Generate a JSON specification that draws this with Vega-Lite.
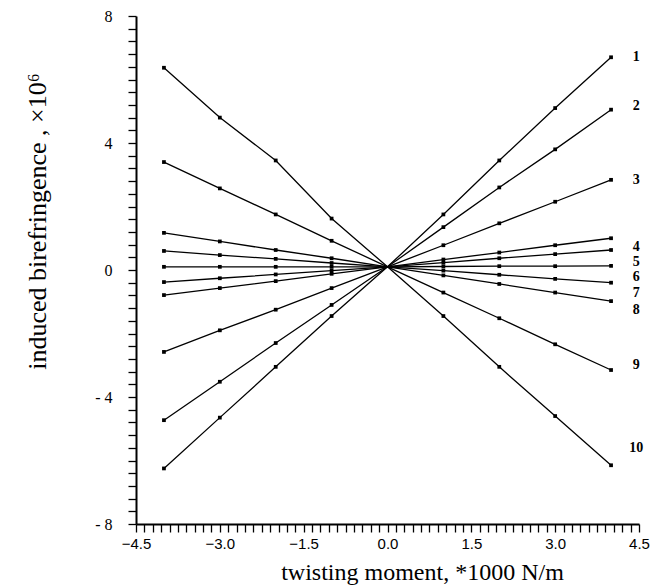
{
  "$schema": "https://vega.github.io/schema/vega-lite/v6.json",
  "width": 503,
  "height": 508,
  "autosize": {"type": "none"},
  "padding": {"left": 136, "top": 16, "right": 16, "bottom": 63},
  "background": "white",
  "config": {"view": {"stroke": null}},
  "datasets": {
    "pts": [
      {"s": 1, "x": -4, "y": -6.25}, {"s": 1, "x": -3, "y": -4.65}, {"s": 1, "x": -2, "y": -3.05}, {"s": 1, "x": -1, "y": -1.45}, {"s": 1, "x": 0, "y": 0.1}, {"s": 1, "x": 1, "y": 1.75}, {"s": 1, "x": 2, "y": 3.45}, {"s": 1, "x": 3, "y": 5.1}, {"s": 1, "x": 4, "y": 6.7},
      {"s": 2, "x": -4, "y": -4.73}, {"s": 2, "x": -3, "y": -3.52}, {"s": 2, "x": -2, "y": -2.3}, {"s": 2, "x": -1, "y": -1.1}, {"s": 2, "x": 0, "y": 0.1}, {"s": 2, "x": 1, "y": 1.35}, {"s": 2, "x": 2, "y": 2.6}, {"s": 2, "x": 3, "y": 3.8}, {"s": 2, "x": 4, "y": 5.05},
      {"s": 3, "x": -4, "y": -2.58}, {"s": 3, "x": -3, "y": -1.9}, {"s": 3, "x": -2, "y": -1.25}, {"s": 3, "x": -1, "y": -0.57}, {"s": 3, "x": 0, "y": 0.1}, {"s": 3, "x": 1, "y": 0.78}, {"s": 3, "x": 2, "y": 1.47}, {"s": 3, "x": 3, "y": 2.15}, {"s": 3, "x": 4, "y": 2.84},
      {"s": 4, "x": -4, "y": -0.79}, {"s": 4, "x": -3, "y": -0.57}, {"s": 4, "x": -2, "y": -0.35}, {"s": 4, "x": -1, "y": -0.12}, {"s": 4, "x": 0, "y": 0.1}, {"s": 4, "x": 1, "y": 0.33}, {"s": 4, "x": 2, "y": 0.55}, {"s": 4, "x": 3, "y": 0.78}, {"s": 4, "x": 4, "y": 1.0},
      {"s": 5, "x": -4, "y": -0.38}, {"s": 5, "x": -3, "y": -0.26}, {"s": 5, "x": -2, "y": -0.14}, {"s": 5, "x": -1, "y": -0.02}, {"s": 5, "x": 0, "y": 0.1}, {"s": 5, "x": 1, "y": 0.23}, {"s": 5, "x": 2, "y": 0.37}, {"s": 5, "x": 3, "y": 0.5}, {"s": 5, "x": 4, "y": 0.63},
      {"s": 6, "x": -4, "y": 0.1}, {"s": 6, "x": -3, "y": 0.1}, {"s": 6, "x": -2, "y": 0.1}, {"s": 6, "x": -1, "y": 0.1}, {"s": 6, "x": 0, "y": 0.1}, {"s": 6, "x": 1, "y": 0.11}, {"s": 6, "x": 2, "y": 0.12}, {"s": 6, "x": 3, "y": 0.12}, {"s": 6, "x": 4, "y": 0.13},
      {"s": 7, "x": -4, "y": 0.6}, {"s": 7, "x": -3, "y": 0.47}, {"s": 7, "x": -2, "y": 0.35}, {"s": 7, "x": -1, "y": 0.22}, {"s": 7, "x": 0, "y": 0.1}, {"s": 7, "x": 1, "y": -0.02}, {"s": 7, "x": 2, "y": -0.15}, {"s": 7, "x": 3, "y": -0.28}, {"s": 7, "x": 4, "y": -0.4},
      {"s": 8, "x": -4, "y": 1.17}, {"s": 8, "x": -3, "y": 0.9}, {"s": 8, "x": -2, "y": 0.63}, {"s": 8, "x": -1, "y": 0.37}, {"s": 8, "x": 0, "y": 0.1}, {"s": 8, "x": 1, "y": -0.17}, {"s": 8, "x": 2, "y": -0.44}, {"s": 8, "x": 3, "y": -0.71}, {"s": 8, "x": 4, "y": -0.98},
      {"s": 9, "x": -4, "y": 3.4}, {"s": 9, "x": -3, "y": 2.57}, {"s": 9, "x": -2, "y": 1.75}, {"s": 9, "x": -1, "y": 0.92}, {"s": 9, "x": 0, "y": 0.1}, {"s": 9, "x": 1, "y": -0.71}, {"s": 9, "x": 2, "y": -1.52}, {"s": 9, "x": 3, "y": -2.34}, {"s": 9, "x": 4, "y": -3.15},
      {"s": 10, "x": -4, "y": 6.37}, {"s": 10, "x": -3, "y": 4.8}, {"s": 10, "x": -2, "y": 3.45}, {"s": 10, "x": -1, "y": 1.62}, {"s": 10, "x": 0, "y": 0.1}, {"s": 10, "x": 1, "y": -1.45}, {"s": 10, "x": 2, "y": -3.05}, {"s": 10, "x": 3, "y": -4.6}, {"s": 10, "x": 4, "y": -6.15}
    ],
    "labels": [
      {"t": "1", "x": 4.45, "y": 6.7},
      {"t": "2", "x": 4.45, "y": 5.15},
      {"t": "3", "x": 4.45, "y": 2.84},
      {"t": "4", "x": 4.45, "y": 0.72},
      {"t": "5", "x": 4.45, "y": 0.25},
      {"t": "6", "x": 4.45, "y": -0.22},
      {"t": "7", "x": 4.45, "y": -0.73},
      {"t": "8", "x": 4.45, "y": -1.26},
      {"t": "9", "x": 4.45, "y": -2.99},
      {"t": "10", "x": 4.45, "y": -5.6}
    ]
  },
  "layer": [
    {
      "data": {"name": "pts"},
      "mark": {"type": "line", "color": "black", "strokeWidth": 1.3},
      "encoding": {
        "x": {
          "field": "x", "type": "quantitative",
          "scale": {"domain": [-4.5, 4.5], "nice": false, "zero": false},
          "axis": {
            "title": "twisting moment,   *1000 N/m",
            "titleFont": "Liberation Serif", "titleFontSize": 24, "titleFontWeight": "normal", "titleColor": "black",
            "titleX": 286, "titleY": 55, "titleAnchor": null, "titleAlign": "center", "titleBaseline": "alphabetic",
            "tickCount": 200,
            "values": [-4.5,-4.35,-4.2,-4.05,-3.9,-3.75,-3.6,-3.45,-3.3,-3.15,-3.0,-2.85,-2.7,-2.55,-2.4,-2.25,-2.1,-1.95,-1.8,-1.65,-1.5,-1.35,-1.2,-1.05,-0.9,-0.75,-0.6,-0.45,-0.3,-0.15,0,0.15,0.3,0.45,0.6,0.75,0.9,1.05,1.2,1.35,1.5,1.65,1.8,1.95,2.1,2.25,2.4,2.55,2.7,2.85,3.0,3.15,3.3,3.45,3.6,3.75,3.9,4.05,4.2,4.35,4.5],
            "labelExpr": "abs(datum.value/1.5 - round(datum.value/1.5)) < 0.01 ? replace(format(datum.value, '.1f'), '-', '\u2212') : ''",
            "labelFont": "Liberation Sans", "labelFontSize": 15, "labelColor": "black", "labelPadding": 4,
            "labelOverlap": false, "labelFlush": false,
            "tickSize": 8, "tickColor": "black", "tickWidth": 1.3,
            "domainColor": "black", "domainWidth": 2, "grid": false
          }
        },
        "y": {
          "field": "y", "type": "quantitative",
          "scale": {"domain": [-8, 8], "nice": false, "zero": false},
          "axis": {
            "title": "induced birefringence ,   \u00d710\u2076",
            "titleFont": "Liberation Serif", "titleFontSize": 26, "titleFontWeight": "normal", "titleColor": "black",
            "titleX": -99, "titleY": 205, "titleAngle": -90, "titleAlign": "center", "titleBaseline": "middle",
            "tickCount": 200,
            "values": [-8,-7.6,-7.2,-6.8,-6.4,-6,-5.6,-5.2,-4.8,-4.4,-4,-3.6,-3.2,-2.8,-2.4,-2,-1.6,-1.2,-0.8,-0.4,0,0.4,0.8,1.2,1.6,2,2.4,2.8,3.2,3.6,4,4.4,4.8,5.2,5.6,6,6.4,6.8,7.2,7.6,8],
            "labelExpr": "abs(datum.value/4 - round(datum.value/4)) < 0.01 ? (datum.value < 0 ? '- ' + format(abs(datum.value), 'd') : format(datum.value, 'd')) : ''",
            "labelFont": "Liberation Serif", "labelFontSize": 16, "labelColor": "black", "labelPadding": 16,
            "labelOverlap": false, "labelFlush": false,
            "tickSize": 8, "tickColor": "black", "tickWidth": 1.3,
            "domainColor": "black", "domainWidth": 2, "grid": false
          }
        },
        "detail": {"field": "s", "type": "nominal"}
      }
    },
    {
      "data": {"name": "pts"},
      "transform": [{"filter": "datum.x != 0"}],
      "mark": {"type": "point", "filled": true, "color": "black", "size": 14, "opacity": 1, "shape": "square"},
      "encoding": {
        "x": {"field": "x", "type": "quantitative"},
        "y": {"field": "y", "type": "quantitative"}
      }
    },
    {
      "data": {"name": "labels"},
      "mark": {"type": "text", "font": "Liberation Serif", "fontSize": 14, "fontWeight": "bold", "color": "black", "align": "center", "baseline": "middle"},
      "encoding": {
        "x": {"field": "x", "type": "quantitative"},
        "y": {"field": "y", "type": "quantitative"},
        "text": {"field": "t", "type": "nominal"}
      }
    }
  ]
}
